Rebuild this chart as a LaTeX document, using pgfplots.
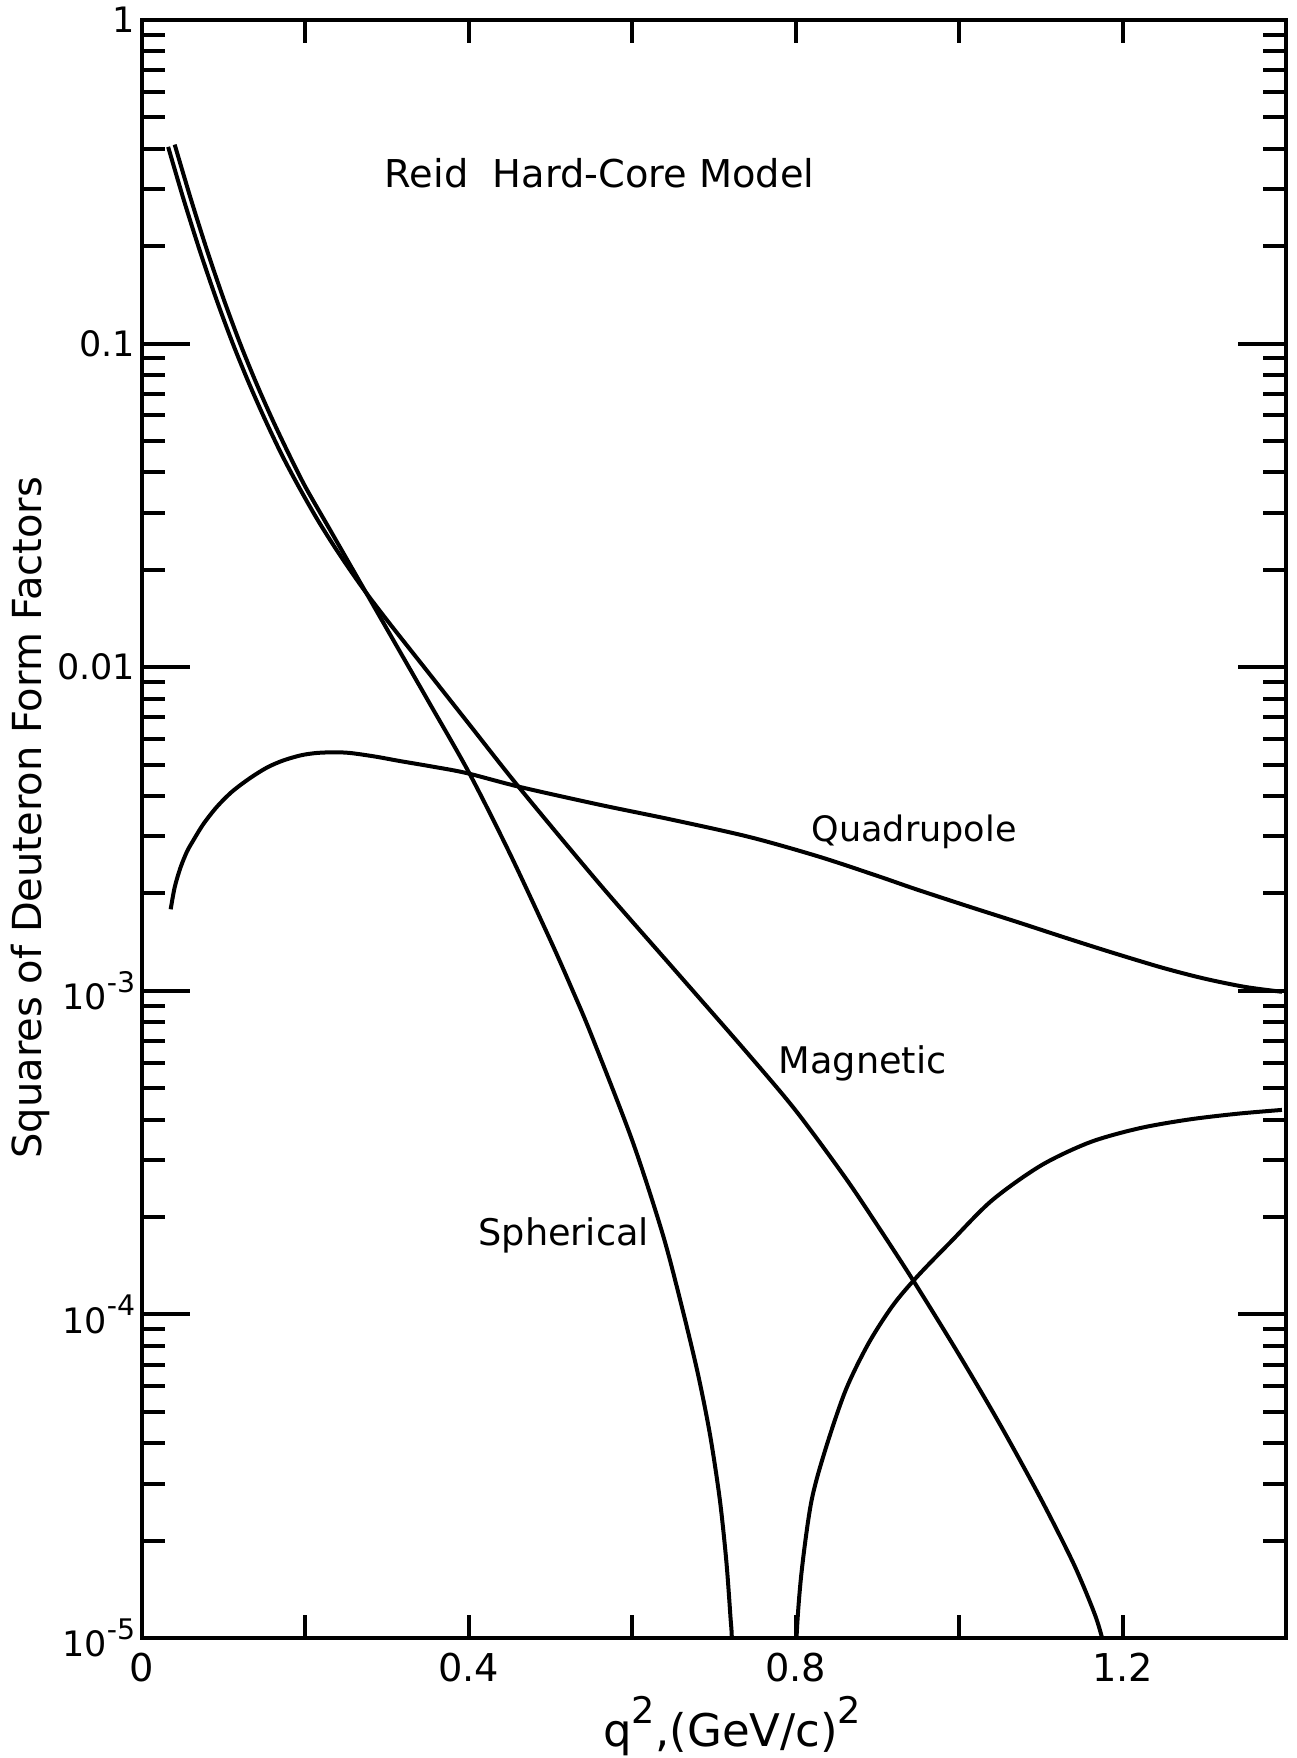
\documentclass[border=0pt]{standalone}
\usepackage{fontspec}
\setmainfont{DejaVu Sans}
\usepackage{pgfplots}
\pgfplotsset{compat=1.18}

% power-of-ten tick label with a large raised exponent
\newcommand{\tenexp}[1]{10\raisebox{0.5em}{\fontsize{8.5}{9}\selectfont #1}}

\pgfplotsset{ff curve/.style={line width=1.2pt, black, no markers, smooth, tension=0.5}}

\begin{document}
\begin{tikzpicture}
\path[use as bounding box] (0,0) rectangle (388.8pt,527.4pt);
\begin{axis}[
  at={(42.6pt,36pt)}, anchor=south west,
  scale only axis, width=343.2pt, height=485.4pt,
  xmin=0, xmax=1.4,
  ymode=log, ymin=1e-5, ymax=1,
  axis line style={line width=1.3pt},
  tick pos=both, tick align=inside,
  tick style={line width=1.2pt, black},
  major tick length=14.5pt, minor tick length=7pt,
  xtick={0,0.4,0.8,1.2},
  xticklabels={0,0.4,0.8,1.2},
  minor xtick={0.2,0.4,0.6,0.8,1.0,1.2},
  major x tick style={draw=none},
  ytick={1e-5,1e-4,1e-3,1e-2,1e-1,1},
  yticklabels={\tenexp{-5},\tenexp{-4},\tenexp{-3},0.01,0.1,1},
  minor ytick={2e-5,3e-5,4e-5,5e-5,6e-5,7e-5,8e-5,9e-5,
               2e-4,3e-4,4e-4,5e-4,6e-4,7e-4,8e-4,9e-4,
               2e-3,3e-3,4e-3,5e-3,6e-3,7e-3,8e-3,9e-3,
               2e-2,3e-2,4e-2,5e-2,6e-2,7e-2,8e-2,9e-2,
               2e-1,3e-1,4e-1,5e-1,6e-1,7e-1,8e-1,9e-1},
  xticklabel style={font=\fontsize{11.5}{12}\selectfont, yshift=-1pt},
  yticklabel style={font=\fontsize{10.5}{12}\selectfont, xshift=1.5pt},
  clip mode=individual,
]
% Spherical (charge) form factor, first lobe down to its zero
\addplot[ff curve] coordinates {
  (0.040,0.4121) (0.060,0.2786) (0.080,0.1928) (0.100,0.1371) (0.120,0.1002)
  (0.140,0.07534) (0.160,0.05794) (0.180,0.04539) (0.200,0.03606) (0.230,0.02661)
  (0.260,0.01963) (0.300,0.01309) (0.350,0.007889) (0.400,0.004732) (0.450,0.002661)
  (0.500,0.001429) (0.527,0.001002) (0.550,7.295e-4) (0.600,3.443e-4) (0.637,1.778e-4)
  (0.660,1.072e-4) (0.680,6.607e-5) (0.695,4.266e-5) (0.707,2.692e-5) (0.715,1.738e-5)
  (0.720,1.175e-5) (0.722,9.55e-6) (0.7225,5.0e-6)
};
% Spherical, second lobe beyond the zero
\addplot[ff curve] coordinates {
  (0.8005,6.31e-6) (0.801,1.0e-5) (0.807,1.585e-5) (0.819,2.63e-5) (0.836,3.802e-5)
  (0.861,5.821e-5) (0.889,8.128e-5) (0.919,1.067e-4) (0.949,1.312e-4) (0.990,1.679e-4)
  (1.040,2.249e-4) (1.100,2.884e-4) (1.160,3.404e-4) (1.220,3.758e-4) (1.280,3.999e-4)
  (1.340,4.169e-4) (1.395,4.285e-4)
};
% Magnetic
\addplot[ff curve] coordinates {
  (0.032,0.4055) (0.051,0.2786) (0.071,0.1928) (0.091,0.1371) (0.111,0.1002)
  (0.131,0.07534) (0.151,0.05794) (0.171,0.04539) (0.192,0.03606) (0.215,0.02851)
  (0.240,0.02265) (0.270,0.01758) (0.300,0.01396) (0.350,0.009661) (0.400,0.006683)
  (0.462,0.004236) (0.560,0.002138) (0.650,0.001175) (0.740,6.457e-4) (0.800,4.266e-4)
  (0.860,2.661e-4) (0.900,1.884e-4) (0.945,1.259e-4) (1.000,7.499e-5) (1.050,4.571e-5)
  (1.100,2.692e-5) (1.140,1.698e-5) (1.165,1.202e-5) (1.175,1.0e-5) (1.185,7.94e-6)
};
% Quadrupole
\addplot[ff curve] coordinates {
  (0.0351,1.786e-3) (0.040,2.089e-3) (0.047,2.399e-3) (0.055,2.692e-3) (0.0628,2.917e-3)
  (0.075,3.273e-3) (0.0914,3.698e-3) (0.110,4.121e-3) (0.132,4.539e-3) (0.153,4.898e-3)
  (0.173,5.152e-3) (0.195,5.346e-3) (0.214,5.433e-3) (0.235,5.458e-3) (0.2544,5.433e-3)
  (0.285,5.297e-3) (0.3156,5.129e-3) (0.355,4.932e-3) (0.397,4.710e-3) (0.4624,4.266e-3)
  (0.560,3.758e-3) (0.650,3.373e-3) (0.744,2.985e-3) (0.828,2.600e-3) (0.900,2.265e-3)
  (0.946,2.065e-3) (1.010,1.828e-3) (1.072,1.629e-3) (1.130,1.459e-3) (1.185,1.318e-3)
  (1.248,1.180e-3) (1.300,1.091e-3) (1.350,1.028e-3) (1.395,9.931e-4)
};

\node[font=\fontsize{11.5}{12}\selectfont] at (axis cs:0.56,0.336) {Reid\ \ Hard-Core Model};
\node[font=\fontsize{10.5}{12}\selectfont] at (axis cs:0.945,3.1e-3) {Quadrupole};
\node[font=\fontsize{11}{12}\selectfont] at (axis cs:0.882,5.96e-4) {Magnetic};
\node[font=\fontsize{11}{12}\selectfont] at (axis cs:0.516,1.76e-4) {Spherical};

\node[rotate=90, font=\fontsize{12}{12}\selectfont]
  at ([xshift=-33.5pt]axis description cs:0,0.507) {Squares of Deuteron Form Factors};
\node[font=\fontsize{13.5}{14}\selectfont]
  at ([yshift=-26.4pt]axis description cs:0.516,0) {q\raisebox{0.5em}{\fontsize{11}{11}\selectfont 2},(GeV/c)\raisebox{0.5em}{\fontsize{11}{11}\selectfont 2}};
\end{axis}
\end{tikzpicture}
\end{document}
